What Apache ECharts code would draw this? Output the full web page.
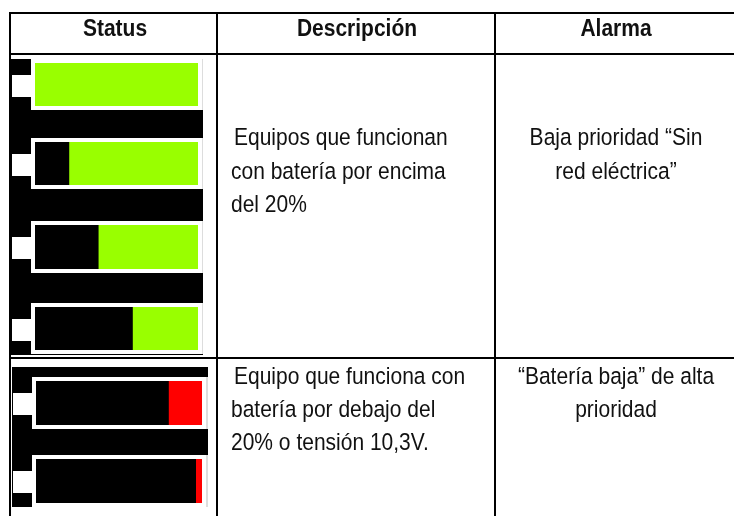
<!DOCTYPE html>
<html>
<head>
<meta charset="utf-8">
<style>
  html, body { margin: 0; padding: 0; background: #fff; }
  #chart { width: 734px; height: 516px; }
</style>
</head>
<body>
<div id="chart"></div>
<script src="https://cdn.jsdelivr.net/npm/echarts@6/dist/echarts.min.js"></script>
<script>
// datos de la tabla
const headers = ['Status', 'Descripción', 'Alarma']
const descHigh = ['Equipos que funcionan', 'con batería por encima', 'del 20%']
const alarmHigh = ['Baja prioridad “Sin', 'red eléctrica”']
const descLow = ['Equipo que funciona con', 'batería por debajo del', '20% o tensión 10,3V.']
const alarmLow = ['“Batería baja” de alta', 'prioridad']

// carga de cada batería (%)
const batteryNames = ['b1', 'b2', 'b3', 'b4', 'b5', 'b6']
const batteryCharge = [100, 79, 61, 40, 20, 3.6]
const batteryColors = ['#99ff00', '#99ff00', '#99ff00', '#99ff00', '#ff0000', '#ff0000']

// zona interior de cada batería en pantalla
const batteryBoxes = [
  { left: 35, top: 63, width: 163, height: 43, edge: 1 },
  { left: 35, top: 142, width: 163, height: 43, edge: 1 },
  { left: 35, top: 225, width: 163, height: 44, edge: 1 },
  { left: 35, top: 307, width: 163, height: 43, edge: 1 },
  { left: 36, top: 381, width: 166, height: 44, edge: 2 },
  { left: 36, top: 459, width: 166, height: 44, edge: 2 }
]

const chart = echarts.init(document.getElementById('chart'), null, { renderer: 'canvas' })

const font = '"Liberation Sans", Arial, sans-serif'
const ink = '#111'

function rect(x, y, w, h, fill, z) {
  return { type: 'rect', silent: true, z: z, shape: { x: x, y: y, width: w, height: h }, style: { fill: fill } }
}

// el texto del original esta algo estirado en vertical
function label(text, x, y, align, weight) {
  return {
    type: 'text', silent: true, z: 20, x: x, y: y, scaleY: 1.18,
    style: { text: text, x: 0, y: 0, fill: ink, font: (weight || 'normal') + ' 21px ' + font, textAlign: align, textVerticalAlign: 'middle' }
  }
}

function linesOf(list, xs, ys, align) {
  return list.map((t, i) => label(t, xs[i], ys[i], align))
}

const elements = [
  // fondos negros de los iconos
  rect(10, 59, 193, 296, '#000', 1),
  rect(12, 367, 196, 140, '#000', 1),

  // rejilla de la tabla
  rect(9, 12, 725, 2, '#000', 10),
  rect(9, 53, 725, 2, '#000', 10),
  rect(10, 357, 724, 2, '#000', 10),
  rect(9, 12, 2, 504, '#000', 10),
  rect(216, 12, 2, 504, '#000', 10),
  rect(494, 12, 2, 504, '#000', 10),

  // cabecera
  label(headers[0], 115, 29, 'center', 'bold'),
  label(headers[1], 357, 29, 'center', 'bold'),
  label(headers[2], 616, 29, 'center', 'bold')
]
  .concat(linesOf(descHigh, [234, 231, 231], [138, 172, 205], 'left'))
  .concat(linesOf(alarmHigh, [616, 616], [138, 172], 'center'))
  .concat(linesOf(descLow, [234, 231, 231], [377, 410, 443], 'left'))
  .concat(linesOf(alarmLow, [616, 616], [377, 410], 'center'))

// carcasa blanca y borne de cada batería
batteryBoxes.forEach(b => {
  elements.push(rect(b.left - 4, b.top - 4, b.width + 8, b.height + 8, '#fff', 2))
  elements.push(rect(b.left + b.width + 4, b.top - 4, b.edge, b.height + 8, '#ddd', 2))
  elements.push(rect(b.left, b.top, b.width, b.height, '#000', 3))
  elements.push(rect(b.left - 23, b.top + 12, 20, 22, '#fff', 2))
})

// una rejilla por batería: la barra crece desde la derecha
chart.setOption({
  animation: false,
  backgroundColor: '#fff',
  graphic: { elements: elements },
  grid: batteryBoxes.map(b => ({ left: b.left, top: b.top, width: b.width, height: b.height, containLabel: false })),
  xAxis: batteryBoxes.map((b, i) => ({ type: 'value', gridIndex: i, min: 0, max: 100, inverse: true, show: false })),
  yAxis: batteryBoxes.map((b, i) => ({ type: 'category', gridIndex: i, data: [batteryNames[i]], show: false })),
  series: batteryCharge.map((v, i) => ({
    type: 'bar',
    xAxisIndex: i,
    yAxisIndex: i,
    z: 5,
    barWidth: '100%',
    data: [v],
    itemStyle: { color: batteryColors[i] }
  }))
})

window.addEventListener('resize', () => chart.resize())
</script>
</body>
</html>
